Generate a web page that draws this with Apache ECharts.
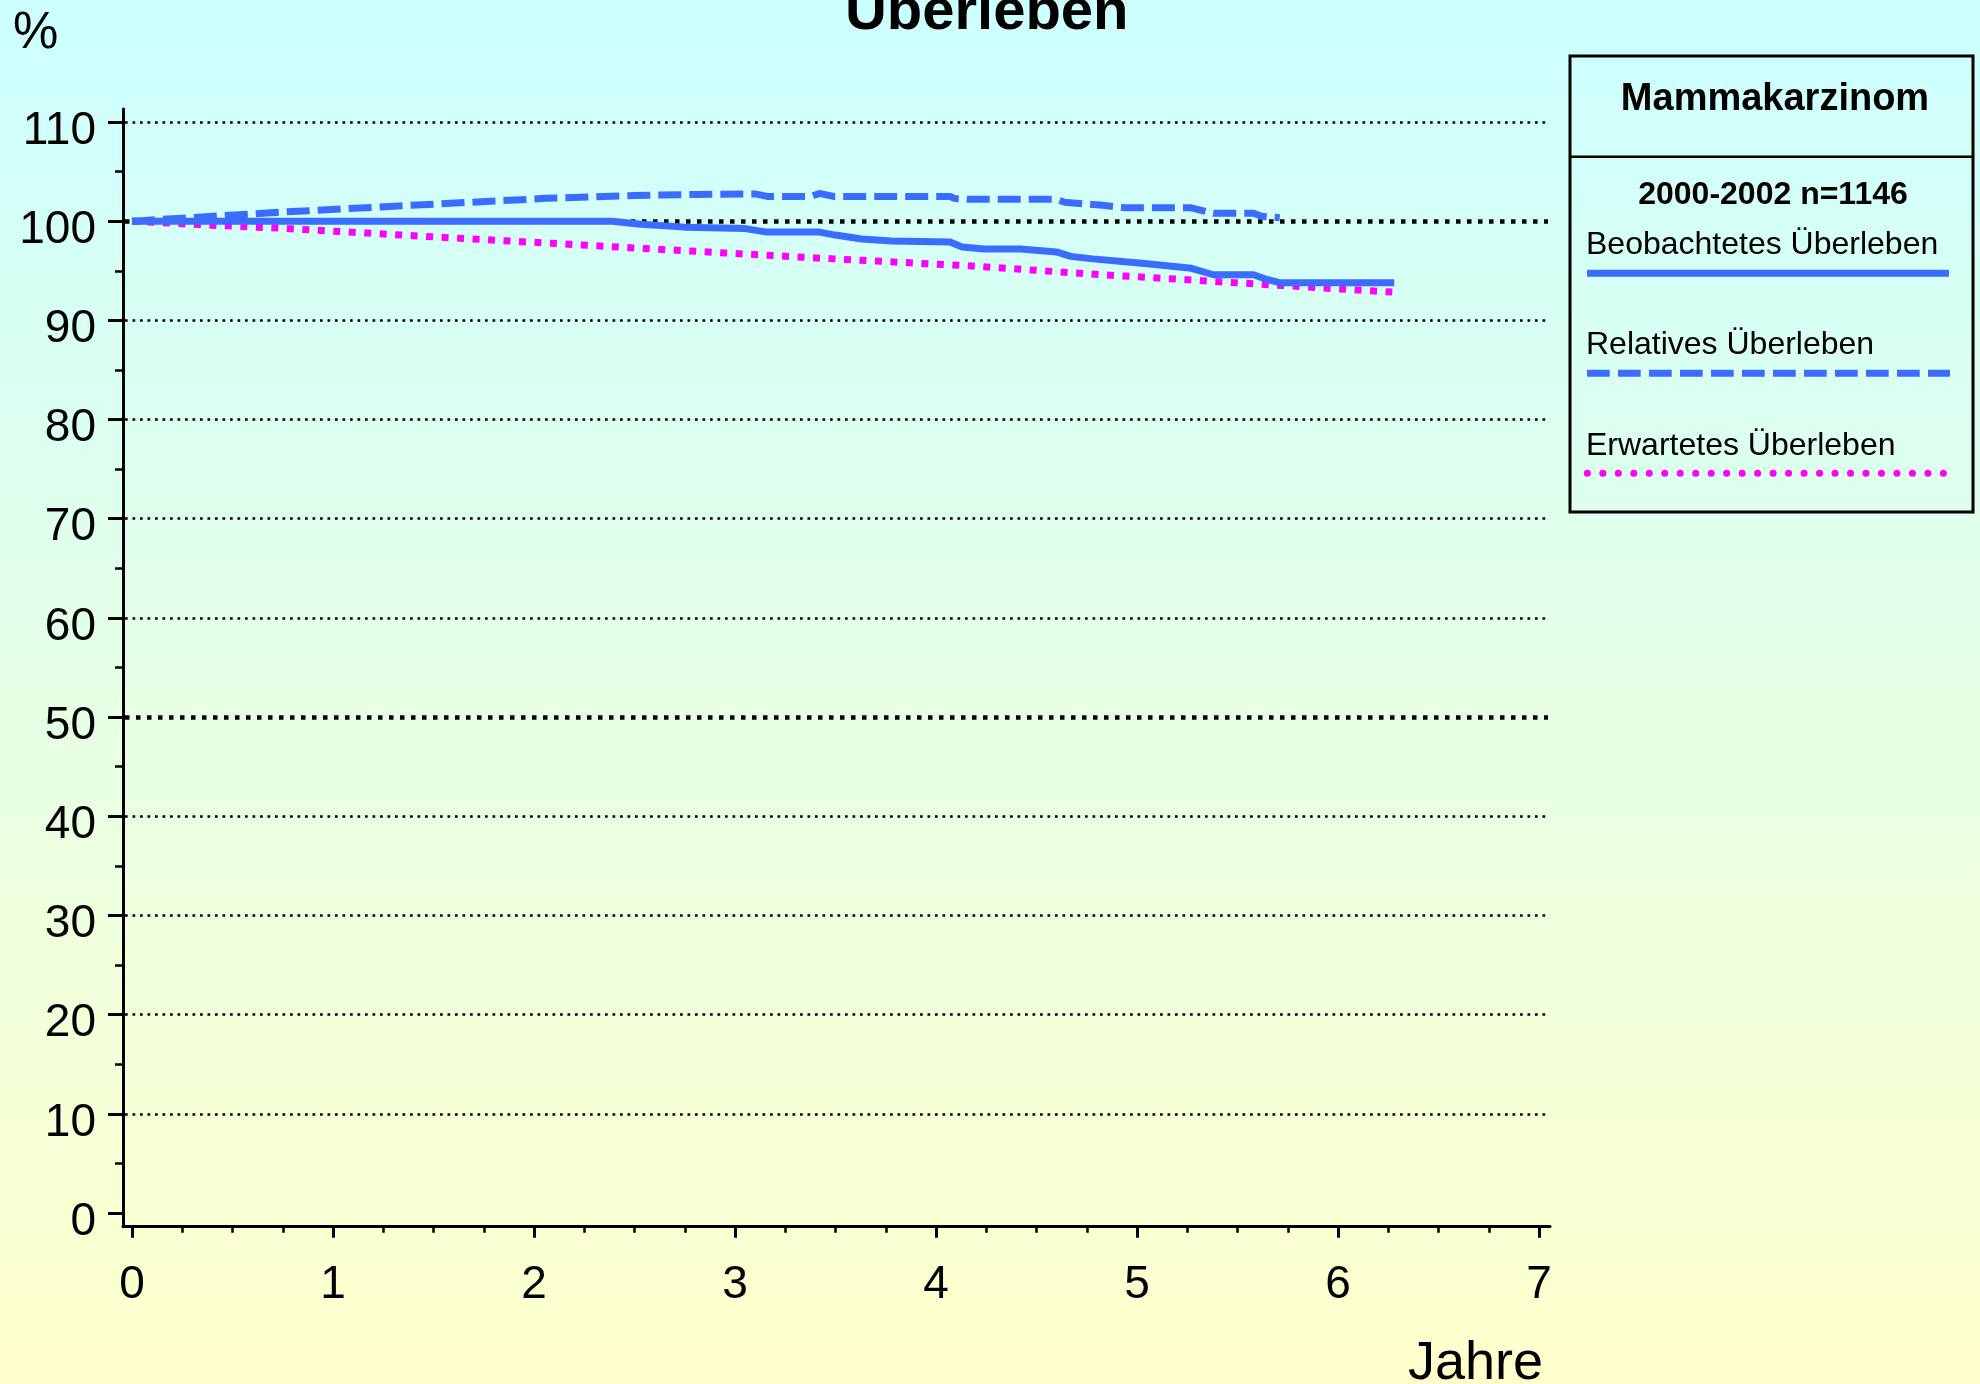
<!DOCTYPE html>
<html lang="de">
<head>
<meta charset="utf-8">
<title>Überleben – Mammakarzinom</title>
<script src="https://cdn.jsdelivr.net/npm/echarts@6/dist/echarts.min.js"></script>
<style>
  html, body { margin: 0; padding: 0; }
  #chart { width: 1980px; height: 1384px; }
</style>
</head>
<body>
<div id="chart"></div>
<script>
// Survival after diagnosis (years) in percent, cohort 2000-2002
const observedYears  = [0, 2.39, 2.53, 2.75, 3.05, 3.16, 3.42, 3.5, 3.63, 3.78, 4.07, 4.13, 4.24, 4.42, 4.6, 4.67, 4.78, 4.94, 5.05, 5.27, 5.38, 5.58, 5.65, 5.71, 6.28];
const observedValues = [100, 100, 99.7, 99.4, 99.25, 98.9, 98.9, 98.6, 98.2, 98.0, 97.9, 97.4, 97.2, 97.2, 96.9, 96.45, 96.2, 95.9, 95.7, 95.25, 94.6, 94.6, 94.1, 93.8, 93.8];

const relativeYears  = [0, 0.06, 0.73, 1.39, 2.06, 2.5, 2.82, 3.1, 3.16, 3.38, 3.42, 3.49, 4.07, 4.09, 4.16, 4.6, 4.64, 4.83, 4.94, 5.27, 5.38, 5.58, 5.62, 5.71];
const relativeValues = [100, 100.07, 100.9, 101.6, 102.3, 102.6, 102.7, 102.75, 102.5, 102.5, 102.8, 102.5, 102.5, 102.3, 102.2, 102.2, 101.9, 101.6, 101.35, 101.35, 100.8, 100.8, 100.5, 100.35];

const expectedYears  = [0, 0.39, 0.73, 1.17, 1.61, 2.06, 2.5, 2.95, 3.49, 4.16, 4.83, 5.49, 6.27];
const expectedValues = [100, 99.6, 99.3, 98.8, 98.3, 97.8, 97.3, 96.8, 96.2, 95.5, 94.6, 93.8, 92.85];

const seriesNames    = ['Beobachtetes Überleben', 'Relatives Überleben', 'Erwartetes Überleben'];
const chartTitle     = 'Überleben';
const legendTitle    = 'Mammakarzinom';
const legendSubtitle = '2000-2002 n=1146';
const yAxisName      = '%';
const xAxisName      = 'Jahre';

const FONT = "'Liberation Sans', Arial, Helvetica, sans-serif";
const BLUE = '#3a6cff';
const MAGENTA = '#ff00ff';
const DASHED = [23, 8];
const DOTTED = [7, 8.5];

const zip = (xs, ys) => xs.map((x, i) => [x, ys[i]]);

// thin dotted gridlines 10..110; the 50 and 100 lines are drawn heavier elsewhere
const thinGridColors = [10, 20, 30, 40, 50, 60, 70, 80, 90, 100, 110]
  .map(v => (v === 50 || v === 100) ? 'rgba(0,0,0,0)' : '#000');

const chart = echarts.init(document.getElementById('chart'), null, { renderer: 'canvas' });

const hiddenX = { type: 'value', min: 0, max: 1, show: false };

const option = {
  animation: false,
  backgroundColor: {
    type: 'linear', x: 0, y: 0, x2: 0, y2: 1,
    colorStops: [{ offset: 0, color: '#ccffff' }, { offset: 1, color: '#ffffcc' }]
  },
  grid: [
    { left: 132, right: 441, top: 122, bottom: 171 },          // curves, ticks, labels
    { left: 125, right: 432, top: 122, bottom: 171 },          // thin gridlines
    { left: 125, right: 432, top: 221.2, bottom: 666.9 },      // heavy lines at 50 and 100
    { left: 123, right: 430, top: 109, bottom: 157.3 }         // axis frame lines
  ],
  xAxis: [
    {
      gridIndex: 0, type: 'value', min: 0, max: 7, interval: 1, offset: 13.7,
      axisLine: { show: false, onZero: false },
      axisTick: { show: true, length: 11, lineStyle: { color: '#000', width: 3 } },
      minorTick: { show: true, splitNumber: 4, length: 6, lineStyle: { color: '#000', width: 2.5 } },
      splitLine: { show: false },
      minorSplitLine: { show: false },
      axisLabel: { fontSize: 46, fontFamily: FONT, color: '#000', margin: 36 }
    },
    Object.assign({ gridIndex: 1 }, hiddenX),
    Object.assign({ gridIndex: 2 }, hiddenX),
    {
      gridIndex: 3, type: 'value', min: 0, max: 1,
      axisLine: { show: true, onZero: false, lineStyle: { color: '#000', width: 3 } },
      axisTick: { show: false }, axisLabel: { show: false }, splitLine: { show: false }
    }
  ],
  yAxis: [
    {
      gridIndex: 0, type: 'value', min: 0, max: 110, interval: 10, offset: 9,
      axisLine: { show: false, onZero: false },
      axisTick: { show: true, length: 15, lineStyle: { color: '#000', width: 3 } },
      minorTick: { show: true, splitNumber: 2, length: 8, lineStyle: { color: '#000', width: 2.5 } },
      splitLine: { show: false },
      minorSplitLine: { show: false },
      axisLabel: {
        fontSize: 46, fontFamily: FONT, color: '#000', margin: 27,
        verticalAlign: 'top', lineHeight: 18
      }
    },
    {
      gridIndex: 1, type: 'value', min: 0, max: 110, interval: 10,
      axisLine: { show: false, onZero: false }, axisTick: { show: false }, axisLabel: { show: false },
      splitLine: { show: true, showMinLine: false, lineStyle: { color: thinGridColors, width: 2.5, type: [2.7, 4.8] } }
    },
    {
      gridIndex: 2, type: 'value', min: 50, max: 100, interval: 50,
      axisLine: { show: false, onZero: false }, axisTick: { show: false }, axisLabel: { show: false },
      splitLine: { show: true, lineStyle: { color: '#000', width: 4.5, type: [4.5, 6.5] } }
    },
    {
      gridIndex: 3, type: 'value', min: 0, max: 1,
      axisLine: { show: true, onZero: false, lineStyle: { color: '#000', width: 3 } },
      axisTick: { show: false }, axisLabel: { show: false }, splitLine: { show: false }
    }
  ],
  series: [
    {
      name: seriesNames[2], type: 'line', xAxisIndex: 0, yAxisIndex: 0, z: 2,
      data: zip(expectedYears, expectedValues), showSymbol: false, silent: true,
      lineStyle: { color: MAGENTA, width: 7, type: DOTTED, cap: 'butt' }
    },
    {
      name: seriesNames[1], type: 'line', xAxisIndex: 0, yAxisIndex: 0, z: 3,
      data: zip(relativeYears, relativeValues), showSymbol: false, silent: true,
      lineStyle: { color: BLUE, width: 7, type: DASHED, cap: 'butt' }
    },
    {
      name: seriesNames[0], type: 'line', xAxisIndex: 0, yAxisIndex: 0, z: 4,
      data: zip(observedYears, observedValues), showSymbol: false, silent: true,
      lineStyle: { color: BLUE, width: 7, type: 'solid' }
    }
  ],
  graphic: [
    { type: 'text', x: 986.7, y: 13, style: { text: chartTitle, font: 'bold 58px ' + FONT, fill: '#000', textAlign: 'center', textVerticalAlign: 'middle' } },
    { type: 'text', x: 13, y: 34, style: { text: yAxisName, font: '51px ' + FONT, fill: '#000', textAlign: 'left', textVerticalAlign: 'middle' } },
    { type: 'text', x: 1543, y: 1364, style: { text: xAxisName, font: '54px ' + FONT, fill: '#000', textAlign: 'right', textVerticalAlign: 'middle' } },

    // legend panel
    { type: 'rect', shape: { x: 1570, y: 56, width: 403, height: 456 }, style: { fill: 'none', stroke: '#000', lineWidth: 3 } },
    { type: 'line', shape: { x1: 1570, y1: 156.7, x2: 1973, y2: 156.7 }, style: { stroke: '#000', lineWidth: 2.5 } },
    { type: 'text', x: 1775, y: 100, style: { text: legendTitle, font: 'bold 38px ' + FONT, fill: '#000', textAlign: 'center', textVerticalAlign: 'middle' } },
    { type: 'text', x: 1773, y: 195, style: { text: legendSubtitle, font: 'bold 32px ' + FONT, fill: '#000', textAlign: 'center', textVerticalAlign: 'middle' } },

    { type: 'text', x: 1586, y: 245, style: { text: seriesNames[0], font: '32px ' + FONT, fill: '#000', textAlign: 'left', textVerticalAlign: 'middle' } },
    { type: 'line', shape: { x1: 1587, y1: 273.3, x2: 1949, y2: 273.3 }, style: { stroke: BLUE, lineWidth: 7 } },

    { type: 'text', x: 1586, y: 345, style: { text: seriesNames[1], font: '32px ' + FONT, fill: '#000', textAlign: 'left', textVerticalAlign: 'middle' } },
    { type: 'line', shape: { x1: 1587, y1: 373.3, x2: 1950, y2: 373.3 }, style: { stroke: BLUE, lineWidth: 7, lineDash: [22.7, 8.3] } },

    { type: 'text', x: 1586, y: 446, style: { text: seriesNames[2], font: '32px ' + FONT, fill: '#000', textAlign: 'left', textVerticalAlign: 'middle' } },
    { type: 'line', shape: { x1: 1587.3, y1: 473.3, x2: 1944, y2: 473.3 }, style: { stroke: MAGENTA, lineWidth: 7, lineCap: 'round', lineDash: [0.1, 15.38] } }
  ]
};

chart.setOption(option);
</script>
</body>
</html>
